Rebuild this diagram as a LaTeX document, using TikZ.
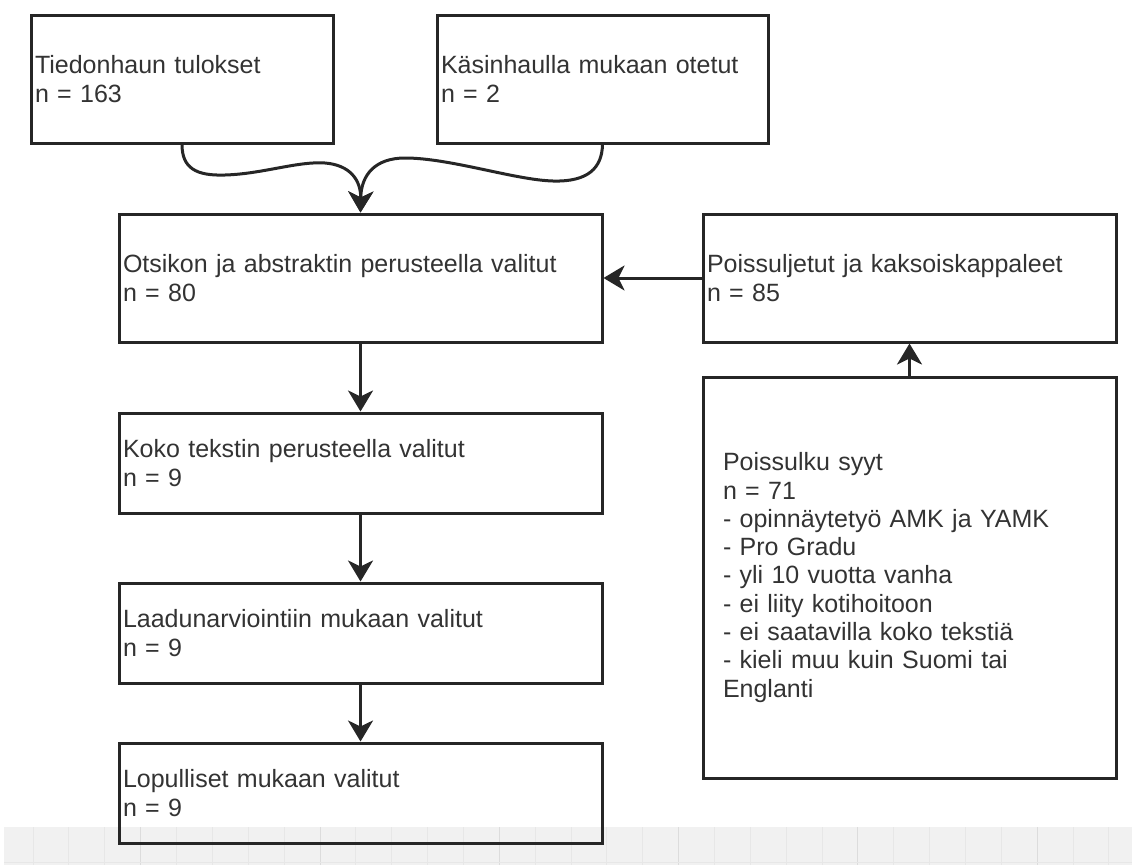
\documentclass[tikz,border=0pt]{standalone}
\usepackage{fontspec}
\setmainfont{Liberation Sans}
\usetikzlibrary{arrows.meta}
\definecolor{edgec}{HTML}{262626}
\definecolor{txtc}{HTML}{333333}
\definecolor{gridbg}{HTML}{F1F1F1}
\definecolor{gridmin}{HTML}{E7E7E7}
\definecolor{gridmaj}{HTML}{DCDCDC}
\begin{document}
\begin{tikzpicture}[x=1pt,y=-1pt,
  box/.style={draw=edgec, line width=3pt, rectangle, inner xsep=4pt, inner ysep=0pt,
    align=left, text=txtc, font=\fontsize{25pt}{28.3pt}\selectfont},
  arr/.style={draw=edgec, line width=3pt, -{Stealth[length=21pt,width=25pt,inset=6pt]}},
  minline/.style={draw=gridmin, line width=1pt},
  majline/.style={draw=gridmaj, line width=1pt}]
\useasboundingbox (0,0) rectangle (1132,865);
\fill[white] (0,0) rectangle (1132,865);
% grid strip at the bottom
\fill[gridbg] (4,827) rectangle (1132,865);
\foreach \k in {1,...,31} {\draw[minline] ({-2.74+35.86*\k},827) -- ++(0,38);}
\foreach \k in {0,...,5} {\draw[majline] ({140.7+179.3*\k},827) -- ++(0,38);}
\draw[minline] (4,862) -- (1132,862);

% boxes
\node[box, minimum width=302pt, minimum height=128pt, text width=294pt] (b1) at (182,79) {Tiedonhaun tulokset\\n = 163};
\node[box, minimum width=331pt, minimum height=128pt, text width=323pt] (b2) at (602.5,79) {Käsinhaulla mukaan otetut\\n = 2};
\node[box, minimum width=483pt, minimum height=128pt, text width=475pt] (b3) at (360.5,278) {Otsikon ja abstraktin perusteella valitut\\n = 80};
\node[box, minimum width=413pt, minimum height=128pt, text width=405pt] (b4) at (909.5,278) {Poissuljetut ja kaksoiskappaleet\\n = 85};
\node[box, minimum width=483pt, minimum height=100pt, text width=475pt] (b5) at (360.5,463) {Koko tekstin perusteella valitut\\n = 9};
\node[box, minimum width=483pt, minimum height=100pt, text width=475pt] (b6) at (360.5,633) {Laadunarviointiin mukaan valitut\\n = 9};
\node[box, minimum width=483pt, minimum height=100pt, text width=475pt] (b7) at (360.5,793) {Lopulliset mukaan valitut\\n = 9};
\node[box, inner xsep=20pt, minimum width=413pt, minimum height=401pt, text width=373pt] (b8) at (909.5,577.5) {Poissulku syyt\\n = 71\\- opinnäytetyö AMK ja YAMK\\- Pro Gradu\\- yli 10 vuotta vanha\\- ei liity kotihoitoon\\- ei saatavilla koko tekstiä\\- kieli muu kuin Suomi tai\\Englanti};

% connectors
\draw[arr] (b1.south) .. controls (182,168) and (196,176) .. (225,175)
  .. controls (262,174) and (298,161) .. (325,163)
  .. controls (350,165) and (361,180) .. (b3.north);
\draw[arr] (b2.south) .. controls (602,168) and (588,182) .. (553,181)
  .. controls (515,180) and (450,158) .. (405,158)
  .. controls (375,158) and (361,175) .. (b3.north);
\draw[arr] (b3.south) -- (b5.north);
\draw[arr] (b5.south) -- (b6.north);
\draw[arr] (b6.south) -- (b7.north);
\draw[arr] (b4.west) -- (b3.east);
\draw[arr] (b8.north) -- (b4.south);
\end{tikzpicture}
\end{document}
